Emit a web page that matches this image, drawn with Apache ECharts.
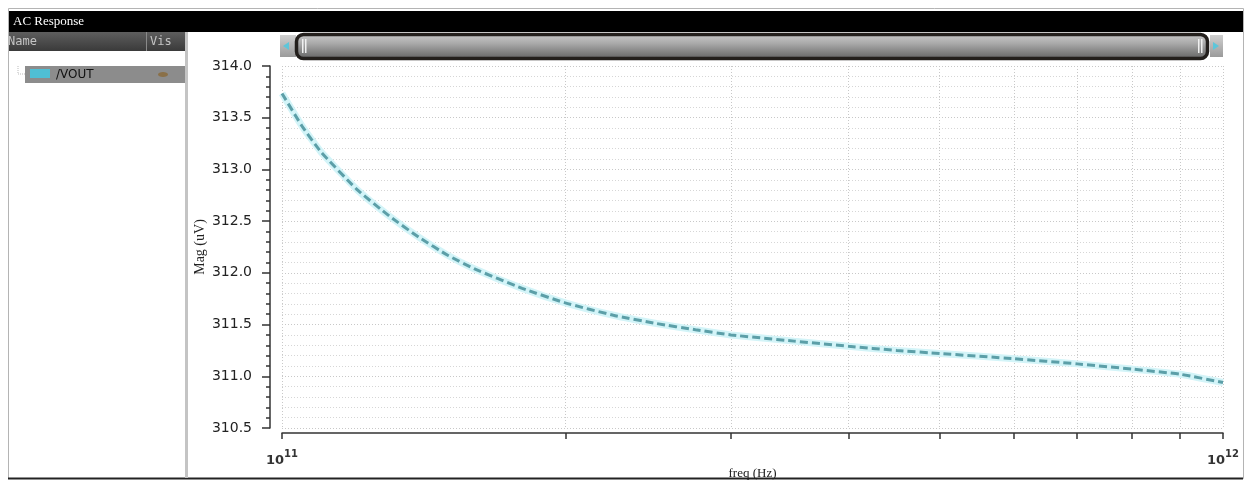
<!DOCTYPE html>
<html><head><meta charset="utf-8">
<script src="https://cdn.jsdelivr.net/npm/echarts@6/dist/echarts.min.js"></script>
<style>html,body{margin:0;padding:0;background:#fff}#c{width:1247px;height:480px}</style>
</head><body><div id="c"></div>
<script>
// ---- data ----
const freqHz = [1.0e11,1.05e11,1.1e11,1.2e11,1.3e11,1.4e11,1.5e11,1.6e11,1.8e11,2.0e11,2.25e11,2.5e11,2.75e11,3.0e11,3.5e11,4.0e11,4.5e11,5.0e11,6.0e11,7.0e11,8.0e11,9.0e11,1.0e12];
const magUV  = [313.735,313.42,313.17,312.81,312.55,312.34,312.17,312.04,311.85,311.71,311.59,311.51,311.45,311.40,311.34,311.29,311.25,311.22,311.17,311.12,311.07,311.02,310.94];
const seriesName = '/VOUT';
const xTitle = 'freq (Hz)';
const yTitle = 'Mag (uV)';
const panelTitle = 'AC Response';
const decadeMultipliers = [2,3,4,5,6,7,8,9];

const pairs = freqHz.map((f,i)=>[f, magUV[i]]);
const chart = echarts.init(document.getElementById('c'), null, {renderer:'canvas'});
const dotted = {type:[1,2], color:'#c8c8c8', width:1};

const option = {
  animation:false,
  backgroundColor:'#ffffff',
  grid:{left:282, right:24, top:66, bottom:52, outerBoundsMode:'none', containLabel:false},
  xAxis:[{
    type:'log', logBase:10, min:1e11, max:1e12, offset:5,
    name:xTitle, nameLocation:'middle', nameGap:34, nameMoveOverlap:false,
    nameTextStyle:{fontFamily:'Liberation Serif', fontSize:13, color:'#222'},
    axisLine:{lineStyle:{color:'#333', width:1.5}},
    axisTick:{show:true, length:6, lineStyle:{color:'#333', width:1.5}},
    axisLabel:{margin:16, showMinLabel:true, showMaxLabel:true,
      formatter:v=>'{b|10}{s|'+Math.round(Math.log10(v))+'}',
      rich:{
        b:{fontSize:13, fontWeight:'bold', fontFamily:'DejaVu Sans', color:'#333', lineHeight:18, verticalAlign:'bottom'},
        s:{fontSize:10, fontWeight:'bold', fontFamily:'DejaVu Sans', color:'#333', lineHeight:11, verticalAlign:'top'}
      }},
    splitLine:{show:true, lineStyle:dotted}
  },{
    type:'value', min:11, max:12, offset:5, position:'bottom',
    axisLine:{show:false}, axisLabel:{show:false},
    axisTick:{show:true, length:6, lineStyle:{color:'#333', width:1.5},
      customValues: decadeMultipliers.map(k=>11+Math.log10(k))},
    splitLine:{show:true, lineStyle:dotted}
  }],
  yAxis:{
    type:'value', min:310.5, max:314, interval:0.5, offset:12,
    name:yTitle, nameLocation:'middle', nameGap:63, nameRotate:90, nameMoveOverlap:false,
    nameTextStyle:{fontFamily:'Liberation Serif', fontSize:14, color:'#222'},
    axisLine:{show:true, lineStyle:{color:'#333', width:1.5}},
    axisTick:{show:true, length:8, lineStyle:{color:'#333', width:1.5}},
    minorTick:{show:true, splitNumber:5, length:4, lineStyle:{color:'#333', width:1.5}},
    axisLabel:{margin:18, formatter:v=>v.toFixed(1), fontFamily:'DejaVu Sans', fontSize:14, color:'#222'},
    splitLine:{show:true, lineStyle:dotted},
    minorSplitLine:{show:true, lineStyle:{type:[1,2], color:'#d6d6d6', width:1}}
  },
  series:[
    {name:seriesName+' glow', type:'line', data:pairs, showSymbol:false, smooth:0.15, silent:true, z:1,
     lineStyle:{color:'#d3f4f8', width:7}},
    {name:seriesName, type:'line', data:pairs, showSymbol:false, smooth:0.15, z:2,
     lineStyle:{color:'#5c9fa8', width:3, type:[8,4]}}
  ],
  graphic:[
    {type:'rect', shape:{x:8.5,y:8.5,width:1235,height:470}, style:{fill:'none', stroke:'#b4b4b4', lineWidth:1}},
    {type:'line', shape:{x1:8,y1:478.5,x2:1243,y2:478.5}, style:{stroke:'#222', lineWidth:2}},
    {type:'rect', shape:{x:9,y:11,width:1234,height:21}, style:{fill:'#000'}},
    {type:'text', x:13, y:22, style:{text:panelTitle, fill:'#fff', font:'13px "Liberation Serif"', verticalAlign:'middle'}},
    {type:'rect', shape:{x:9,y:32,width:177,height:19},
      style:{fill:new echarts.graphic.LinearGradient(0,0,0,1,[{offset:0,color:'#5e5e5e'},{offset:1,color:'#3a3a3a'}])}},
    {type:'text', x:8, y:42, style:{text:'Name', fill:'#c4c4c4', font:'12px "DejaVu Sans Mono"', verticalAlign:'middle'}},
    {type:'line', shape:{x1:146.5,y1:32,x2:146.5,y2:51}, style:{stroke:'#8a8a8a', lineWidth:1}},
    {type:'text', x:150, y:42, style:{text:'Vis', fill:'#c4c4c4', font:'12px "DejaVu Sans Mono"', verticalAlign:'middle'}},
    {type:'rect', shape:{x:0,y:32,width:8,height:20}, style:{fill:'#fff'}},
    {type:'rect', shape:{x:185,y:32,width:3,height:446}, style:{fill:'#c4c4c4'}},
    {type:'polyline', shape:{points:[[18,66],[18,74],[25,74]]}, style:{stroke:'#bbb', lineWidth:1, lineDash:[1,1], fill:'none'}},
    {type:'rect', shape:{x:25,y:66,width:160,height:17}, style:{fill:'#8c8c8c'}},
    {type:'rect', shape:{x:30,y:69,width:20,height:9}, style:{fill:'#4fbfd4'}},
    {type:'text', x:56, y:75, style:{text:seriesName, fill:'#111', font:'12px "DejaVu Sans"', verticalAlign:'middle'}},
    {type:'ellipse', shape:{cx:163,cy:74.5,rx:5,ry:2.5}, style:{fill:'#8a7048'}},
    // scrollbar
    {type:'rect', shape:{x:280,y:35,width:16,height:22},
      style:{fill:new echarts.graphic.LinearGradient(0,0,0,1,[{offset:0,color:'#d0d0d0'},{offset:1,color:'#9a9a9a'}])}},
    {type:'polygon', shape:{points:[[283,46],[289,42],[289,50]]}, style:{fill:'#5cc6da'}},
    {type:'rect', shape:{x:1210,y:35,width:13,height:22},
      style:{fill:new echarts.graphic.LinearGradient(0,0,0,1,[{offset:0,color:'#d0d0d0'},{offset:1,color:'#9a9a9a'}])}},
    {type:'polygon', shape:{points:[[1219,46],[1213,42],[1213,50]]}, style:{fill:'#5cc6da'}},
    {type:'rect', shape:{x:296.5,y:34.5,width:911,height:24,r:7},
      style:{fill:new echarts.graphic.LinearGradient(0,0,0,1,[{offset:0,color:'#cfcfcf'},{offset:0.4,color:'#a8a8a8'},{offset:1,color:'#5e5e5e'}]),
             stroke:'#231f1c', lineWidth:3.5}},
    {type:'rect', shape:{x:302,y:39,width:1.5,height:14}, style:{fill:'#f0f0f0'}},
    {type:'rect', shape:{x:305,y:39,width:1.5,height:14}, style:{fill:'#f0f0f0'}},
    {type:'rect', shape:{x:1198,y:39,width:1.5,height:14}, style:{fill:'#f0f0f0'}},
    {type:'rect', shape:{x:1201,y:39,width:1.5,height:14}, style:{fill:'#f0f0f0'}}
  ]
};
chart.setOption(option);
</script></body></html>
